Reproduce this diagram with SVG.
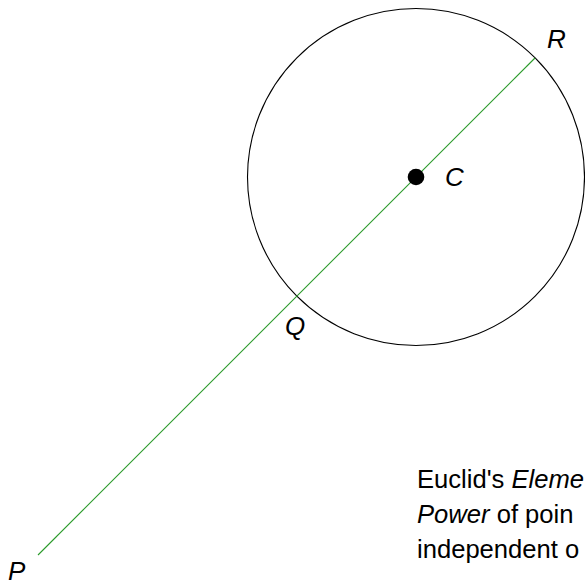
<svg xmlns="http://www.w3.org/2000/svg" width="585" height="587" viewBox="0 0 585 587">
<style>
text{font-family:"Liberation Sans","DejaVu Sans",sans-serif;font-size:26px;fill:#000}
.i{font-style:italic}
.cap{font-size:25.6px}
.conn{stroke:#2a9a2a;stroke-width:1.1;fill:none}
</style>
<rect width="585" height="587" fill="#fff"/>
<g id="circle"><circle cx="416" cy="177" r="168.5" fill="none" stroke="#000" stroke-width="1.1"/></g>
<g id="connectors"><line class="conn" x1="535" y1="58" x2="38" y2="555"/></g>
<g id="C"><circle cx="416" cy="177" r="8.3" fill="#000"/><text class="i" x="445" y="186">C</text></g>
<g id="R"><text class="i" x="547" y="48">R</text></g>
<g id="Q"><text class="i" x="285" y="335">Q</text></g>
<g id="P"><text class="i" x="8" y="580">P</text></g>
<g id="caption">
<text class="cap" x="417" y="488">Euclid's <tspan class="i">Eleme</tspan></text>
<text class="cap" x="417" y="523"><tspan class="i">Power</tspan> of poin</text>
<text class="cap" x="417" y="558">independent o</text>
</g>
</svg>
